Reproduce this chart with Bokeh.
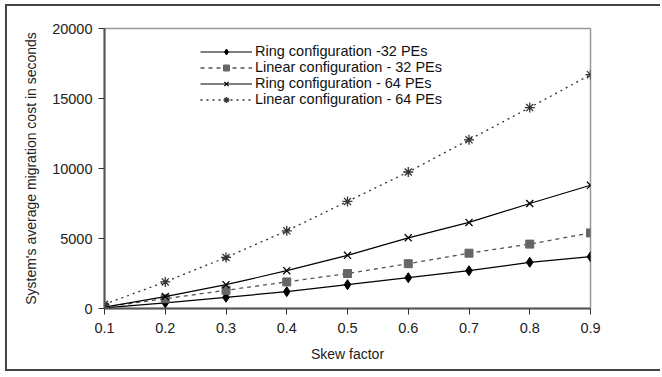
from bokeh.plotting import figure
from bokeh.embed import file_html
from bokeh.resources import INLINE
from bokeh.models import Range1d, FixedTicker, Legend, LegendItem

skew = [0.1, 0.2, 0.3, 0.4, 0.5, 0.6, 0.7, 0.8, 0.9]
ring32 = [50, 400, 800, 1200, 1700, 2200, 2700, 3300, 3700]
linear32 = [100, 700, 1300, 1900, 2500, 3200, 3950, 4600, 5400]
ring64 = [100, 850, 1700, 2700, 3800, 5050, 6150, 7500, 8800]
linear64 = [300, 1900, 3650, 5550, 7650, 9750, 12050, 14350, 16700]

x_ticks = [0.1, 0.2, 0.3, 0.4, 0.5, 0.6, 0.7, 0.8, 0.9]
y_ticks = [0, 5000, 10000, 15000, 20000]

FONT = "Liberation Sans"

p = figure(width=655, height=367, output_backend="svg", toolbar_location=None,
           x_range=Range1d(0.1, 0.9), y_range=Range1d(0, 20000),
           min_border_left=97, min_border_right=72, min_border_top=22, min_border_bottom=65)
p.styles = {"margin-left": "5px", "margin-top": "4px",
            "border-left": "2px solid #444", "border-top": "2px solid #444",
            "border-bottom": "2px solid #444"}

p.xgrid.visible = False
p.ygrid.visible = False
p.outline_line_color = "#999999"
p.outline_line_width = 1.5

for ax in (p.xaxis, p.yaxis):
    ax.axis_line_color = "#555555"
    ax.axis_line_width = 2
    ax.major_tick_line_color = "#333333"
    ax.major_tick_out = 6
    ax.major_tick_in = 0
    ax.minor_tick_line_color = None
    ax.major_label_text_font = FONT
    ax.major_label_text_font_size = "14.5px"
    ax.major_label_text_color = "#222222"
    ax.axis_label_text_font = FONT
    ax.axis_label_text_font_size = "14px"
    ax.axis_label_text_font_style = "normal"
    ax.axis_label_text_color = "#222222"

p.xaxis.ticker = FixedTicker(ticks=x_ticks)
p.yaxis.ticker = FixedTicker(ticks=y_ticks)
p.xaxis.axis_label = "Skew factor"
p.yaxis.axis_label = "System's average migration cost in seconds"
p.xaxis.major_label_standoff = 8
p.xaxis.axis_label_standoff = 10
p.yaxis.major_label_standoff = 6
p.yaxis.axis_label_standoff = 10

r1l = p.line(skew, ring32, line_color="black", line_width=1.2)
r1m = p.scatter(skew, ring32, marker="diamond", size=10, fill_color="black", line_color="black")
r2l = p.line(skew, linear32, line_color="#555555", line_width=1.3, line_dash="4 4")
r2m = p.scatter(skew, linear32, marker="square", size=8, fill_color="#666666", line_color="#666666")
r3l = p.line(skew, ring64, line_color="black", line_width=1.2)
r3m = p.scatter(skew, ring64, marker="x", size=10, line_color="black", line_width=1.3)
r4l = p.line(skew, linear64, line_color="#333333", line_width=1.3, line_dash="2 4")
r4m = p.scatter(skew, linear64, marker="asterisk", size=10, line_color="#333333", line_width=1.3)

legend = Legend(items=[
    LegendItem(label="Ring configuration -32 PEs", renderers=[r1l, r1m]),
    LegendItem(label="Linear configuration - 32 PEs", renderers=[r2l, r2m]),
    LegendItem(label="Ring configuration - 64 PEs", renderers=[r3l, r3m]),
    LegendItem(label="Linear configuration - 64 PEs", renderers=[r4l, r4m]),
], border_line_color=None, background_fill_alpha=0,
    label_text_font=FONT, label_text_font_size="14.5px", label_text_color="#111111",
    glyph_width=52, glyph_height=15, spacing=-2, padding=10, margin=0,
    label_standoff=3, label_height=15)
p.add_layout(legend)
legend.location = (96, 201)

open("out.html", "w").write(file_html(p, INLINE))
